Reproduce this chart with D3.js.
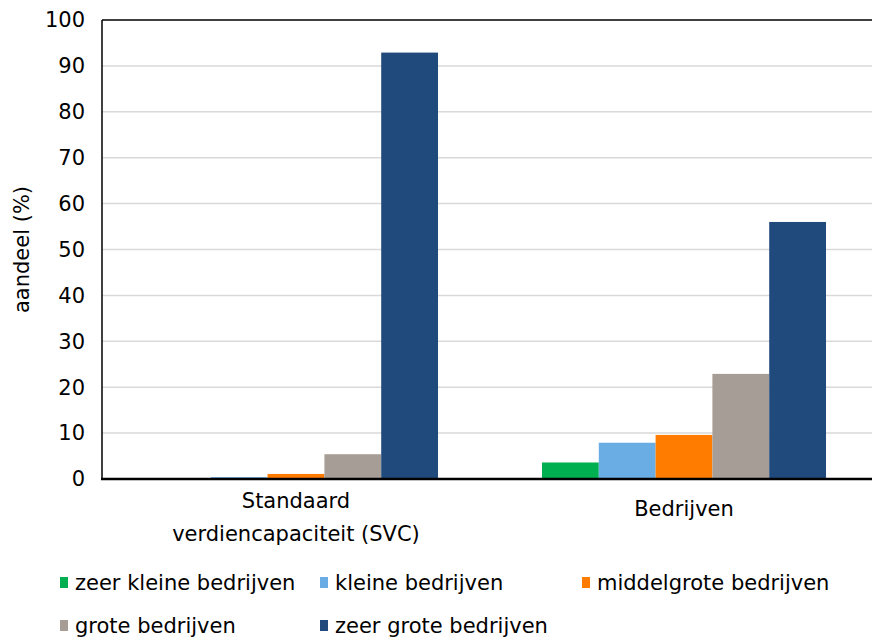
<!DOCTYPE html>
<html>
<head>
<meta charset="utf-8">
<script src="https://cdn.jsdelivr.net/npm/d3@7"></script>
<style>
  body { margin: 0; background: #fff; }
  text { font-family: "DejaVu Sans", Verdana, sans-serif; fill: #000; font-size: 21px; }
</style>
</head>
<body>
<div id="chart"></div>
<script>
// categories and series
let categories = ["Standaard\nverdiencapaciteit (SVC)", "Bedrijven"];
let seriesNames = ["zeer kleine bedrijven", "kleine bedrijven", "middelgrote bedrijven", "grote bedrijven", "zeer grote bedrijven"];
let seriesColors = ["#00b050", "#6aade4", "#ff7c00", "#a59d96", "#204a7c"];
let zeerKlein = [0, 3.6];
let klein = [0.4, 7.9];
let middelgroot = [1.1, 9.6];
let groot = [5.4, 22.9];
let zeerGroot = [92.9, 56.0];
let yTicks = [0, 10, 20, 30, 40, 50, 60, 70, 80, 90, 100];

let values = [zeerKlein, klein, middelgroot, groot, zeerGroot];

let width = 872, height = 641;
let plot = {left: 102, right: 878, top: 20, bottom: 479};

let svg = d3.select("#chart")
    .append("svg")
    .attr("width", width)
    .attr("height", height);

let x0 = d3.scaleBand()
    .domain(categories)
    .range([plot.left, plot.right])
    .paddingInner(0.268)
    .paddingOuter(0.134);

let x1 = d3.scaleBand()
    .domain(seriesNames)
    .range([0, x0.bandwidth()]);

let y = d3.scaleLinear()
    .domain([0, 100])
    .range([plot.bottom, plot.top]);

// gridlines
svg.append("g")
    .selectAll("line")
    .data(yTicks.filter(function(d) { return d > 0 && d < 100; }))
    .enter()
    .append("line")
    .attr("x1", plot.left)
    .attr("x2", width)
    .attr("y1", function(d) { return y(d); })
    .attr("y2", function(d) { return y(d); })
    .attr("stroke", "#d9d9d9")
    .attr("stroke-width", 1.5);

// bars
categories.forEach(function(cat, ci) {
    seriesNames.forEach(function(s, si) {
        let v = values[si][ci];
        if (v <= 0) return;
        svg.append("rect")
            .attr("x", x0(cat) + x1(s))
            .attr("y", y(v))
            .attr("width", x1.bandwidth())
            .attr("height", y(0) - y(v))
            .attr("fill", seriesColors[si]);
    });
});

// frame: top line, left axis, baseline
svg.append("line")
    .attr("x1", plot.left).attr("x2", width)
    .attr("y1", y(100)).attr("y2", y(100))
    .attr("stroke", "#000").attr("stroke-width", 1.5);
svg.append("line")
    .attr("x1", plot.left).attr("x2", plot.left)
    .attr("y1", y(100)).attr("y2", y(0))
    .attr("stroke", "#000").attr("stroke-width", 1.5);
svg.append("line")
    .attr("x1", plot.left - 1).attr("x2", width)
    .attr("y1", y(0)).attr("y2", y(0))
    .attr("stroke", "#000").attr("stroke-width", 2.5);

// y tick labels
svg.append("g")
    .selectAll("text")
    .data(yTicks)
    .enter()
    .append("text")
    .attr("x", 85)
    .attr("y", function(d) { return y(d); })
    .attr("dy", "0.35em")
    .attr("text-anchor", "end")
    .text(function(d) { return d; });

// y axis label
svg.append("text")
    .attr("transform", "translate(29," + ((plot.top + plot.bottom) / 2) + ") rotate(-90)")
    .attr("text-anchor", "middle")
    .text("aandeel (%)");

// category labels
categories.forEach(function(cat) {
    let lines = cat.split("\n");
    let cx = x0(cat) + x0.bandwidth() / 2;
    let t = svg.append("text")
        .attr("x", cx)
        .attr("y", lines.length > 1 ? 508 : 516)
        .attr("text-anchor", "middle");
    lines.forEach(function(l, i) {
        t.append("tspan")
            .attr("x", cx)
            .attr("dy", i === 0 ? 0 : 33)
            .text(l);
    });
});

// legend
let legendPos = [[60, 583], [320, 583], [582, 583], [60, 626], [320, 626]];
seriesNames.forEach(function(s, i) {
    let p = legendPos[i];
    svg.append("rect")
        .attr("x", p[0])
        .attr("y", p[1] - 6)
        .attr("width", 8)
        .attr("height", 11)
        .attr("fill", seriesColors[i]);
    svg.append("text")
        .attr("x", p[0] + 15)
        .attr("y", p[1])
        .attr("dy", "0.35em")
        .text(s);
});
</script>
</body>
</html>
